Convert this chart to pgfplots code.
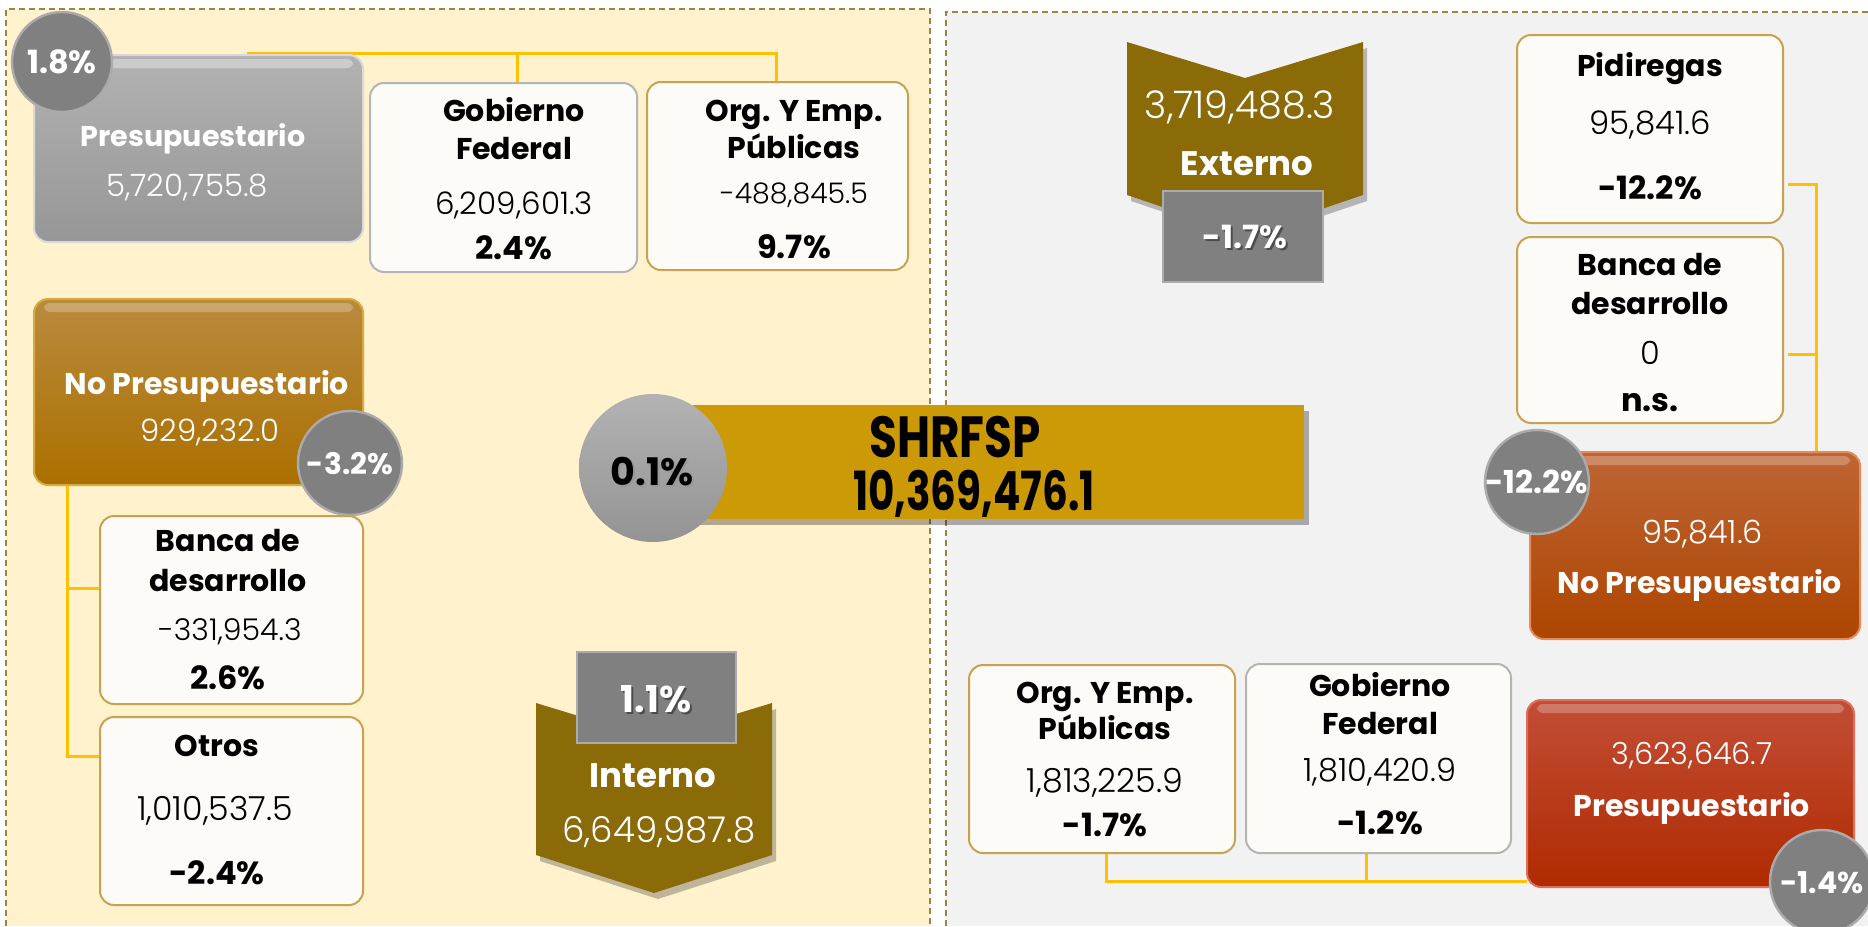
\documentclass[border=0pt]{standalone}
\usepackage{fontspec}
\setmainfont{Poppins}
\IfFontExistsTF{Poppins Light}{\newfontfamily\lf{Poppins Light}}{\newcommand{\lf}{}}
\usepackage{pgfplots}
\pgfplotsset{compat=1.18}
\definecolor{leftbg}{HTML}{FFF2CC}
\definecolor{rightbg}{HTML}{F2F2F2}
\definecolor{bord}{HTML}{9A8545}
\definecolor{goldline}{HTML}{FFC000}
\definecolor{wbox}{HTML}{FCFBF8}
\definecolor{goldb}{HTML}{C9A24F}
\definecolor{greyb}{HTML}{B4B4B4}
\definecolor{circ}{HTML}{808080}
\definecolor{circb}{HTML}{ABABAB}
\definecolor{banner}{HTML}{CC9A06}
\definecolor{chev}{HTML}{8B6A08}
\newcommand{\fs}[1]{\fontsize{#1pt}{#1pt}\selectfont}
\tikzset{
  t/.style={anchor=mid, inner sep=0pt},
  Bf/.style={font={\fs{#1}\bfseries}, yshift={-0.2*#1pt}},
  N/.style={font={\fs{#1}\lf}, yshift={-0.2*#1pt}},
  B/.style={Bf=15},
  P/.style={Bf=16},
  wb/.style={fill=wbox, draw=goldb, line width=1pt, rounded corners=7pt},
  gb/.style={fill=wbox, draw=greyb, line width=1pt, rounded corners=7pt},
  pc/.style={fill=circ, draw=circb, line width=1.2pt},
  gl/.style={draw=goldline, line width=1.5pt},
}
\begin{document}
\begin{tikzpicture}
\begin{axis}[width=934pt,height=463pt,scale only axis,hide axis,
  xmin=0,xmax=1868,ymin=0,ymax=926,y dir=reverse,clip=false]
% panels
\fill[leftbg] (6,9) rectangle (930,926);
\draw[bord, line width=0.7pt, dash pattern=on 3pt off 2pt] (6,926) -- (6,9) -- (930,9) -- (930,926);
\fill[rightbg] (946,12) rectangle (1868,926);
\draw[bord, line width=0.7pt, dash pattern=on 3pt off 2pt] (946,926) -- (946,12) -- (1868,12);
% connectors
\addplot[gl, mark=none] coordinates {(247,53) (776,53) (776,82)};
\addplot[gl, mark=none] coordinates {(517,53) (517,83)};
\addplot[gl, mark=none] coordinates {(67,485) (67,756) (100,756)};
\addplot[gl, mark=none] coordinates {(67,588) (100,588)};
\addplot[gl, mark=none] coordinates {(1788,184) (1816,184) (1816,453)};
\addplot[gl, mark=none] coordinates {(1788,354) (1816,354)};
\addplot[gl, mark=none] coordinates {(1106,853) (1106,881) (1527,881)};
\addplot[gl, mark=none] coordinates {(1366,853) (1366,881)};
% ---------- left side
\shade[top color=black!30, bottom color=black!41, draw=black!15, line width=1pt, rounded corners=7pt] (34,55) rectangle (363,242);
\fill[white, opacity=0.35, rounded corners=3pt] (44,59) rectangle (353,68);
\node[t, white, Bf=14.3] at (193,135) {Presupuestario};
\node[t, white, N=15.4] at (187,185) {5,720,755.8};
\draw[pc] (62,62) circle[radius=25pt];
\node[t, white, Bf=16] at (62,62) {1.8\%};

\draw[gb] (370,83) rectangle (637,272);
\node[t, B] at (514,110) {Gobierno};
\node[t, B] at (514,148) {Federal};
\node[t, N=15.5] at (514,203) {6,209,601.3};
\node[t, P] at (514,248) {2.4\%};

\draw[wb] (647,82) rectangle (908,270);
\node[t, B] at (794,110) {Org. Y Emp.};
\node[t, B] at (794,147) {Públicas};
\node[t, N=14.2] at (794,192) {-488,845.5};
\node[t, P] at (794,247) {9.7\%};

\shade[top color={rgb,255:red,186;green,138;blue,62}, bottom color={rgb,255:red,171;green,112;blue,0}, draw={rgb,255:red,214;green,170;blue,60}, line width=1pt, rounded corners=7pt] (34,299) rectangle (363,485);
\fill[white, opacity=0.25, rounded corners=3pt] (44,303) rectangle (353,312);
\node[t, white, B] at (207,383) {No Presupuestario};
\node[t, white, N=15.4] at (210,430) {929,232.0};
\draw[pc] (350,463) circle[radius=26pt];
\node[t, white, Bf=14.8] at (350,463) {-3.2\%};

\draw[wb] (100,516) rectangle (363,704);
\node[t, B] at (228,540) {Banca de};
\node[t, B] at (228,580) {desarrollo};
\node[t, N=15] at (230,629) {-331,954.3};
\node[t, P] at (228,678) {2.6\%};

\draw[wb] (100,717) rectangle (363,905);
\node[t, B] at (217,745) {Otros};
\node[t, N=16.6] at (215,808) {1,010,537.5};
\node[t, P] at (217,873) {-2.4\%};

% Interno chevron
\fill[black, opacity=0.25] (540,709) -- (658,745) -- (776,709) -- (776,861) -- (658,899) -- (540,861) -- cycle;
\fill[chev] (536,703) -- (654,739) -- (772,703) -- (772,855) -- (654,893) -- (536,855) -- cycle;
\draw[fill=circ, draw=circb, line width=1.2pt] (577,652) rectangle (736,743);
\node[t, black, opacity=0.4, Bf=18.5] at (658,702) {1.1\%};
\node[t, white, Bf=18.5] at (656,700) {1.1\%};
\node[t, white, Bf=17] at (653,775) {Interno};
\node[t, white, N=17.8] at (659,830) {6,649,987.8};

% ---------- centre
\fill[black, opacity=0.3] (699,411) rectangle (1309,525);
\fill[banner] (693,405) rectangle (1304,519);
\shade[top color=black!30, bottom color=black!42] (653,468) circle[radius=37pt];
\node[t, black!40, Bf=19] at (654,474) {0.1\%};
\node[t, Bf=19] at (652,472) {0.1\%};
\node[t, Bf=29] at (955,440) {\scalebox{0.78}[1]{SHRFSP}};
\node[t, Bf=27] at (974,494) {\scalebox{0.75}[1]{10,369,476.1}};

% ---------- right side
\fill[black, opacity=0.25] (1131,48) -- (1249,84) -- (1367,48) -- (1367,201) -- (1249,241) -- (1131,201) -- cycle;
\fill[chev] (1127,42) -- (1245,78) -- (1363,42) -- (1363,195) -- (1245,235) -- (1127,195) -- cycle;
\node[t, white, N=19] at (1240,105) {3,719,488.3};
\node[t, white, Bf=17] at (1247,163) {Externo};
\draw[fill=circ, draw=circb, line width=1.2pt] (1163,191) rectangle (1323,282);
\node[t, black, opacity=0.4, Bf=16] at (1247,239) {-1.7\%};
\node[t, white, Bf=16] at (1245,237) {-1.7\%};

\draw[wb] (1517,35) rectangle (1783,223);
\node[t, B] at (1650,65) {Pidiregas};
\node[t, N=16.2] at (1650,123) {95,841.6};
\node[t, P] at (1650,188) {-12.2\%};

\draw[wb] (1517,237) rectangle (1783,423);
\node[t, B] at (1650,264) {Banca de};
\node[t, B] at (1650,303) {desarrollo};
\node[t, N=16] at (1650,353) {0};
\node[t, P] at (1650,400) {n.s.};

\shade[top color={rgb,255:red,190;green,101;blue,53}, bottom color={rgb,255:red,173;green,69;blue,0}, draw={rgb,255:red,230;green,140;blue,90}, line width=1pt, rounded corners=7pt] (1530,452) rectangle (1860,639);
\fill[white, opacity=0.25, rounded corners=3pt] (1540,456) rectangle (1850,465);
\node[t, white, N=16] at (1703,532) {95,841.6};
\node[t, white, B] at (1700,582) {No Presupuestario};
\draw[pc] (1537,482) circle[radius=26pt];
\node[t, white, Bf=15.8] at (1537,482) {-12.2\%};

\draw[wb] (969,665) rectangle (1235,853);
\node[t, B] at (1105,692) {Org. Y Emp.};
\node[t, B] at (1105,728) {Públicas};
\node[t, N=16.6] at (1105,780) {1,813,225.9};
\node[t, P] at (1105,825) {-1.7\%};

\draw[gb] (1246,664) rectangle (1511,853);
\node[t, B] at (1380,685) {Gobierno};
\node[t, B] at (1380,723) {Federal};
\node[t, N=16] at (1380,770) {1,810,420.9};
\node[t, P] at (1380,823) {-1.2\%};

\shade[top color={rgb,255:red,194;green,78;blue,54}, bottom color={rgb,255:red,176;green,42;blue,0}, draw={rgb,255:red,225;green,110;blue,90}, line width=1pt, rounded corners=7pt] (1527,700) rectangle (1854,887);
\fill[white, opacity=0.25, rounded corners=3pt] (1537,704) rectangle (1844,713);
\node[t, white, N=15.2] at (1692,753) {3,623,646.7};
\node[t, white, B] at (1692,805) {Presupuestario};
\draw[pc] (1822,882) circle[radius=26pt];
\node[t, white, Bf=15] at (1822,882) {-1.4\%};
\end{axis}
\pgfresetboundingbox
\useasboundingbox (current axis.south west) rectangle (current axis.north east);
\end{tikzpicture}
\end{document}
